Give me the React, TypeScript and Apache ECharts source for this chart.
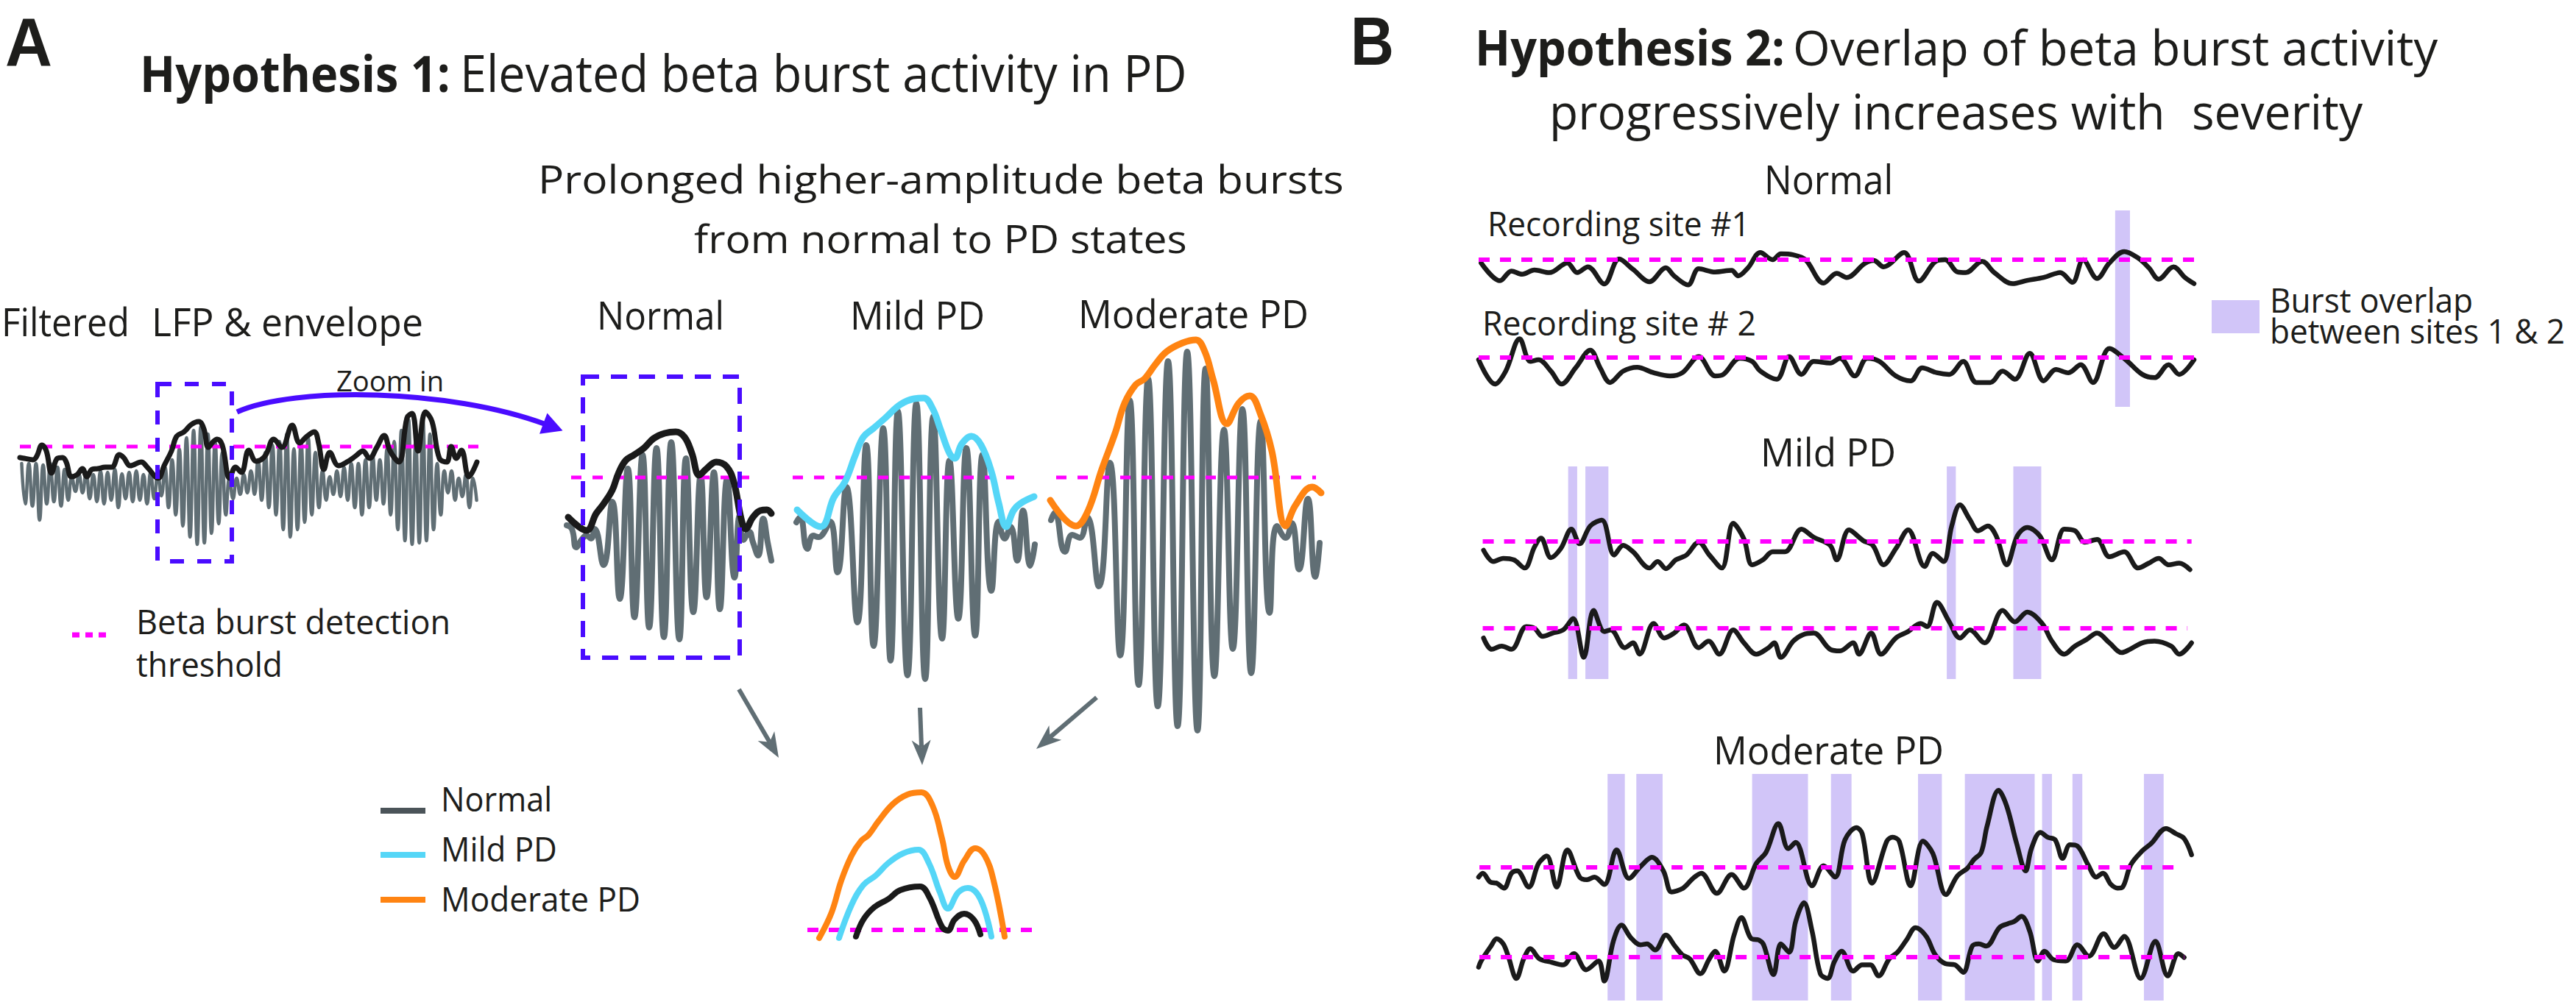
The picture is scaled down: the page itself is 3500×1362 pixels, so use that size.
import React, { useEffect, useRef } from 'react';
import * as echarts from 'echarts';

// ================= DATA =================
// Panel A – filtered LFP (beta band): [peak, trough] amplitude of each beta cycle (a.u.)
const lfpCycles: [number, number][] = [
  [30, -25], [30, -28], [30, -47], [28, -25],
  [30, -22], [25, -28], [22, -20],
  [12, -8], [15, -10],
  [18, -18], [15, -22], [20, -25], [18, -20], [22, -30], [16, -18], [18, -22], [20, -20], [15, -25], [18, -18], [16, -14],
  [25, -30], [35, -40], [50, -55], [65, -70], [75, -80], [80, -78], [70, -65], [60, -52], [45, -40], [10, -18],
  [10, -12], [15, -10],
  [20, -12], [35, -20], [45, -30], [55, -40], [60, -60], [70, -70], [50, -60], [60, -50], [65, -40],
  [45, -30], [20, -20], [12, -12], [20, -15], [25, -20], [30, -30], [30, -40], [35, -30], [40, -20], [35, -25],
  [50, -40], [60, -60], [75, -75], [90, -80], [60, -78], [90, -75], [70, -60], [30, -40],
  [20, -10], [20, -20], [10, -15], [15, -30], [10, -20],
];
const lfpSpan = 623; // samples covered by the filtered LFP
const lfpEnvelope: [number, number][] = [
  [0, 38], [6, 37], [18, 35], [23, 40], [30, 55], [36, 47], [43, 17], [51, 37], [58, 38], [63, 32], [70, 12], [78, 15],
  [85, 23], [91, 12], [98, 22], [106, 23], [116, 25], [125, 25], [135, 42], [141, 38], [150, 27], [165, 32], [173, 25],
  [188, 10], [196, 27], [206, 47], [213, 67], [223, 73], [233, 83], [243, 87], [250, 77], [256, 52], [263, 60], [268, 63],
  [275, 55], [285, 10], [293, 25], [301, 18], [311, 48], [321, 33], [333, 40], [345, 63], [356, 52], [370, 82], [380, 58],
  [390, 67], [400, 73], [406, 57], [413, 22], [421, 45], [433, 27], [446, 33], [456, 40], [466, 47], [475, 37], [485, 52],
  [495, 68], [503, 47], [515, 32], [526, 92], [533, 98], [541, 47], [551, 100], [560, 87], [570, 37], [580, 32], [586, 53],
  [593, 37], [600, 48], [610, 12], [621, 32],
];
const lfpThreshold = 53;
const lfpThresholdSpan: [number, number] = [0, 623];

// Zoomed bursts: [time, amplitude]
const normalBurstLfp: [number, number][] = [
  [0, 22], [7, 17], [13, -8], [20, 2], [27, 8], [33, 4], [38, 17], [50, -32], [62, 54], [72, -78], [83, 99], [92, -103],
  [103, 118], [112, -117], [122, 127], [132, -130], [142, 135], [153, -133], [162, 113], [172, -96], [182, 90], [190, -76],
  [200, 94], [208, -92], [218, 85], [228, -49], [235, 35], [240, 2], [248, 13], [253, -1], [260, -19], [267, 31], [273, -1], [278, -26],
];
const normalBurstEnv: [number, number][] = [
  [2, 33], [27, 15], [40, 38], [50, 51], [62, 70], [70, 92], [80, 110], [92, 118], [105, 127], [118, 140], [133, 147],
  [148, 149], [160, 142], [170, 120], [180, 90], [190, 99], [203, 108], [217, 102], [227, 81], [237, 31], [243, 17],
  [253, 33], [263, 42], [272, 43], [278, 38],
];
const mildBurstLfp: [number, number][] = [
  [2, 26], [7, 33], [17, -10], [25, 8], [32, 6], [38, 10], [48, 27], [58, -42], [70, 74], [85, -110], [97, 131], [107, -142],
  [120, 154], [130, -162], [140, 177], [153, -182], [165, 188], [177, -187], [188, 170], [200, -132], [210, 110], [222, -105],
  [233, 127], [245, -128], [255, 118], [267, -67], [277, 27], [285, 4], [293, 20], [302, -26], [310, 42], [320, -33], [326, -4],
];
const mildBurstEnv: [number, number][] = [
  [3, 43], [35, 20], [53, 60], [68, 81], [82, 117], [93, 142], [107, 154], [123, 168], [143, 186], [162, 194], [175, 195],
  [187, 181], [198, 152], [210, 120], [217, 113], [227, 133], [240, 143], [253, 131], [267, 95], [277, 52], [287, 20],
  [297, 42], [307, 52], [325, 61],
];
const moderateBurstLfp: [number, number][] = [
  [8, 29], [13, 39], [27, -14], [37, 9], [47, 5], [57, 33], [73, -61], [88, 107], [102, -155], [115, 192], [127, -195],
  [140, 221], [153, -224], [167, 245], [180, -251], [193, 258], [207, -257], [218, 235], [230, -183], [243, 152], [255, -146],
  [268, 180], [280, -179], [293, 164], [305, -97], [315, 21], [327, 5], [335, 25], [345, -38], [357, 58], [367, -48], [373, -2],
];
const moderateBurstEnv: [number, number][] = [
  [7, 56], [42, 21], [58, 41], [77, 98], [95, 147], [108, 188], [123, 213], [135, 221], [150, 241], [165, 258], [187, 270],
  [205, 274], [217, 258], [228, 221], [247, 160], [263, 188], [278, 198], [293, 172], [308, 123], [327, 21], [340, 49],
  [363, 74], [375, 66],
];
const burstThreshold = 87;
const normalThrSpan: [number, number] = [6, 248];
const mildThrSpan: [number, number] = [-3, 298];
const moderateThrSpan: [number, number] = [15, 368];

// Envelope comparison (amplitude above threshold)
const overlayModerate: [number, number][] = [
  [16, -11], [33, 24], [46, 67], [60, 101], [73, 121], [83, 129], [96, 147], [116, 171], [136, 184], [155, 187], [170, 169],
  [183, 124], [191, 87], [200, 72], [213, 94], [228, 111], [241, 101], [253, 67], [268, -9],
];
const overlayMild: [number, number][] = [
  [43, -11], [60, 34], [76, 61], [93, 74], [110, 91], [130, 104], [151, 109], [165, 91], [180, 51], [191, 29], [205, 51],
  [218, 57], [235, 42], [250, -9],
];
const overlayNormal: [number, number][] = [
  [66, -9], [76, 14], [91, 31], [110, 42], [126, 54], [153, 59], [166, 44], [183, 4], [191, -1], [200, 14], [213, 22],
  [226, 14], [235, -6],
];
const overlayThrSpan: [number, number] = [0, 305];

// Panel B – beta amplitude at two recording sites, relative to the threshold (0)
const normalSite1: [number, number][] = [
  [3, -1.0], [26, -6.5], [40, -3.5], [53, -4.5], [68, -3.2], [86, -4.0], [108, -1.0], [120, -4.0], [133, -2.2], [153, -7.5],
  [171, 0.2], [188, -3.0], [208, -6.8], [228, -2.5], [238, -5.0], [255, -7.8], [268, -2.8], [288, -3.8], [308, -3.3],
  [316, -5.0], [328, -2.5], [343, 2.2], [358, 0], [368, 1.8], [383, 1.5], [398, 0], [420, -7.2], [436, -4.2], [448, -5.5],
  [470, -1.2], [481, -0.2], [493, -2.2], [518, 2.2], [536, -6.6], [556, -0.6], [568, 0], [583, -3.8], [593, -4.0],
  [613, -0.5], [628, -4.0], [650, -7.4], [668, -6.4], [688, -5.5], [708, -4.0], [723, -7.0], [736, 0], [753, -5.8],
  [768, -1.0], [786, 2.5], [803, 0.5], [816, -2.5], [828, -6.0], [846, -2.2], [860, -5.5], [871, -7.4],
];
const normalSite2: [number, number][] = [
  [0, -0.7], [20, -8.2], [33, -4.2], [50, 5.8], [63, -1.2], [73, -0.7], [88, -4.2], [101, -8.2], [118, -3.2], [136, 2.3],
  [148, -3.2], [160, -7.7], [176, -4.2], [193, -3.0], [213, -4.7], [233, -5.7], [248, -4.7], [268, 0.3], [288, -5.7],
  [298, -5.2], [318, -0.2], [333, -1.2], [343, -4.2], [363, -6.7], [378, 0.3], [393, -5.2], [408, -1.2], [428, -1.7],
  [440, -0.2], [458, -5.7], [473, -0.2], [488, -1.2], [508, -5.7], [526, -7.2], [540, -3.2], [558, -4.7], [573, -5.2],
  [590, -1.2], [606, -7.7], [623, -7.7], [638, -4.2], [653, -6.7], [671, 1.3], [688, -7.2], [703, -3.7], [718, -4.7],
  [733, -2.2], [748, -7.7], [768, 2.8], [788, -0.7], [808, -5.2], [823, -6.2], [840, -2.2], [853, -5.2], [871, -0.7],
];
const mildSite1: [number, number][] = [
  [6, -2.7], [18, -6.2], [30, -5.2], [43, -5.7], [56, -8.2], [68, -1.7], [76, 1.0], [88, -5.0], [100, -2.2], [113, 3.8],
  [123, -0.7], [136, 4.8], [150, 6.6], [165, -4.2], [176, -1.2], [188, -3.2], [208, -8.2], [218, -6.2], [228, -8.4],
  [240, -5.7], [253, -4.2], [268, -0.2], [281, -4.2], [296, -8.2], [310, 5.6], [323, 0.8], [333, -7.2], [346, -5.7],
  [358, -3.2], [373, -3.2], [393, 3.8], [408, 1.3], [428, -1.2], [436, -5.7], [451, 3.6], [468, 0.3], [480, -1.2],
  [493, -7.2], [508, -2.2], [523, 3.6], [543, -7.7], [553, -3.7], [566, -6.2], [576, 4.8], [586, 11.3], [598, 6.8],
  [608, 3.3], [620, 4.8], [630, 1.8], [643, -7.2], [656, 1.8], [668, 4.3], [683, 1.8], [698, -5.7], [713, 3.8], [726, 3.3],
  [738, -0.2], [753, 0.6], [768, -4.7], [786, -3.2], [803, -8.2], [816, -6.7], [828, -5.2], [840, -7.2], [853, -6.7], [866, -8.7],
];
const mildSite2: [number, number][] = [
  [6, -3.0], [16, -6.5], [28, -5.5], [40, -6.5], [58, 0.5], [68, 0], [78, -2.5], [90, -1.5], [103, -0.5], [115, 3.0],
  [128, -9.0], [140, 5.5], [153, -1.0], [161, -0.5], [178, -6.0], [188, -4.5], [196, -8.0], [213, 1.5], [226, -3.0],
  [238, -1.5], [250, 1.0], [268, -6.0], [280, -4.0], [293, -8.0], [310, -0.5], [323, -4.5], [338, -8.0], [353, -6.0],
  [360, -4.5], [368, -9.0], [383, -4.0], [395, -2.0], [408, -1.5], [428, -6.5], [440, -7.0], [456, -4.5], [463, -8.0],
  [478, -1.5], [490, -8.0], [508, -3.0], [523, -1.0], [538, 1.5], [546, 0.5], [558, 8.0], [573, 2.0], [586, -3.0],
  [598, -0.5], [616, -4.5], [638, 5.5], [653, 2.0], [668, 5.0], [686, 1.5], [698, -4.0], [713, -8.0], [726, -5.5],
  [740, -3.5], [753, -1.5], [768, -4.5], [783, -7.5], [793, -6.5], [808, -4.5], [823, -4.0], [843, -5.5], [853, -8.0], [868, -4.5],
];
const moderateSite1: [number, number][] = [
  [0, -3.0], [5, -1.8], [14, -4.5], [22, -4.9], [31, -6.4], [40, -1.8], [47, -1.1], [61, -6.1], [73, 1.2], [83, 3.5],
  [95, -6.1], [108, 5.4], [123, -3.0], [132, -3.8], [141, -3.0], [153, -5.3], [168, 5.4], [183, -3.4], [198, 0.5],
  [211, 3.1], [225, -1.1], [235, -7.6], [249, -6.4], [261, -3.4], [271, -1.8], [290, -8.0], [308, -2.2], [323, -6.4],
  [338, 1.2], [350, 4.7], [365, 13.5], [377, 5.8], [386, 7.7], [406, -5.7], [420, 0.5], [434, -3.0], [446, 8.5],
  [460, 12.3], [467, 10.4], [479, -4.9], [497, 8.1], [504, 9.3], [512, 8.1], [526, -5.7], [541, 8.1], [553, 4.3],
  [569, -8.4], [583, -2.6], [595, -0.3], [603, 2.4], [612, 4.7], [619, 12.7], [633, 23.8], [643, 18.9], [655, 7.4],
  [666, -1.1], [673, 5.8], [684, 10.8], [693, 9.3], [702, 8.5], [711, 2.8], [720, 7.0], [729, 6.6], [742, 0.8],
  [752, -3.0], [760, -1.8], [770, -5.3], [778, -6.4], [784, -6.1], [794, 0.8], [808, 5.1], [819, 7.4], [837, 12.0],
  [849, 10.4], [859, 8.9], [868, 3.9],
];
const moderateSite2: [number, number][] = [
  [0, -3.1], [3, -1.2], [15, 3.4], [22, 5.7], [30, 4.1], [36, 0.3], [46, -6.6], [55, -0.5], [63, 2.6], [74, -0.5],
  [89, -1.6], [103, -2.4], [116, 1.1], [131, -3.9], [146, -1.2], [153, -7.4], [164, 4.9], [174, 9.9], [185, 6.1],
  [197, 3.8], [205, 4.1], [215, 2.2], [228, 6.8], [239, 3.4], [248, 0.7], [257, -0.5], [270, -5.1], [281, -0.5],
  [288, 1.8], [299, -4.3], [311, 6.8], [320, 12.2], [332, 5.7], [341, 5.3], [347, 3.8], [359, -5.4], [368, 4.1],
  [378, 1.5], [386, 11.0], [396, 16.8], [406, 8.0], [416, -5.1], [425, -6.6], [433, -1.5], [442, 1.8], [456, -4.3],
  [467, -2.4], [477, -2.4], [487, -5.8], [500, -0.5], [510, 1.5], [521, 5.3], [532, 9.1], [545, 6.4], [556, 0.7],
  [568, -2.0], [580, -2.4], [590, -4.7], [601, 3.4], [609, 4.1], [618, 3.4], [634, 9.1], [644, 10.3], [652, 11.0],
  [661, 12.6], [671, 8.0], [681, -1.2], [689, 1.8], [700, -0.8], [715, -1.2], [729, 3.8], [743, 0.3], [761, 7.2],
  [774, 3.0], [786, 6.4], [806, -6.6], [824, 4.9], [839, -5.8], [852, 1.1], [859, -0.1],
];
const normalOverlaps: [number, number][] = [[775, 793]];
const mildOverlaps: [number, number][] = [[109, 120], [130, 158], [570, 581], [651, 685]];
const moderateOverlaps: [number, number][] = [
  [157, 178], [192, 224], [333, 401], [429, 454], [535, 564], [592, 677], [686, 698], [723, 735], [810, 834],
];
const normalThr: [number, number][] = [[0, 871], [0, 871]];
const mildThr: [number, number][] = [[5, 868], [5, 863]];
const moderateThr: [number, number][] = [[1, 846], [1, 859]];

// ================= STYLE / LAYOUT =================
const W = 3500;
const H = 1362;
const FONT = '"Open Sans", "Noto Sans", sans-serif';
const ARIAL = '"Liberation Sans", Arial, sans-serif';
const TXT = '#1d1d1b';
const GREY = '#606e74';
const BLACK = '#1a1a1a';
const CYAN = '#55d6f7';
const ORANGE = '#ff8412';
const MAGENTA = '#ff00ff';
const VIOLET = '#4a0cff';
const LAVENDER = '#d1c5f8';

const LABELS: any[] = [
  { t: 'A', x: 7, b: 90, cap: 67, w: 64, bold: true, arial: true },
  { t: 'B', x: 1835, b: 89, cap: 66, w: 59, bold: true, arial: true },
  { t: 'Hypothesis 1:', x: 190, b: 123, cap: 49, w: 422, bold: true },
  { t: 'Elevated beta burst activity in PD', x: 625, b: 123, cap: 49, w: 988 },
  { t: 'Hypothesis 2:', x: 2004, b: 87, cap: 47, w: 421, bold: true },
  { t: 'Overlap of beta burst activity', x: 2436, b: 87, cap: 47, w: 876 },
  { t: 'progressively increases with', x: 2105, b: 174, cap: 47, w: 837 },
  { t: 'severity', x: 2978, b: 174, cap: 47, w: 232 },
  { t: 'Prolonged higher-amplitude beta bursts', x: 731, b: 261, cap: 38, w: 1095 },
  { t: 'from normal to PD states', x: 943, b: 342, cap: 38, w: 670 },
  { t: 'Filtered', x: 2, b: 455, cap: 38, w: 174 },
  { t: 'LFP & envelope', x: 206, b: 455, cap: 38, w: 369 },
  { t: 'Zoom in', x: 457, b: 531, cap: 28, w: 146 },
  { t: 'Normal', x: 811, b: 446, cap: 38, w: 173 },
  { t: 'Mild PD', x: 1155, b: 446, cap: 38, w: 183 },
  { t: 'Moderate PD', x: 1465, b: 444, cap: 38, w: 313 },
  { t: 'Beta burst detection', x: 185, b: 860, cap: 33, w: 427 },
  { t: 'threshold', x: 185, b: 919, cap: 33, w: 199 },
  { t: 'Normal', x: 599, b: 1101, cap: 33, w: 151 },
  { t: 'Mild PD', x: 599, b: 1170, cap: 33, w: 158 },
  { t: 'Moderate PD', x: 599, b: 1238, cap: 33, w: 271 },
  { t: 'Normal', x: 2397, b: 262, cap: 39, w: 175 },
  { t: 'Recording site #1', x: 2021, b: 319, cap: 32, w: 357 },
  { t: 'Recording site # 2', x: 2014, b: 454, cap: 32, w: 372 },
  { t: 'Burst overlap', x: 3084, b: 424, cap: 33, w: 276 },
  { t: 'between sites 1 & 2', x: 3084, b: 466, cap: 33, w: 401 },
  { t: 'Mild PD', x: 2392, b: 632, cap: 38, w: 184 },
  { t: 'Moderate PD', x: 2328, b: 1037, cap: 38, w: 313 },
];

let measureCtx: CanvasRenderingContext2D | null = null;
function measure(text: string, font: string): number {
  if (!measureCtx) measureCtx = document.createElement('canvas').getContext('2d');
  if (!measureCtx) return 0;
  measureCtx.font = font;
  return measureCtx.measureText(text).width;
}

function labelEl(l: any) {
  const family = l.arial ? ARIAL : FONT;
  const ratio = l.arial ? 0.716 : 0.714;
  const size = Math.round((l.cap / ratio) * 10) / 10;
  const font = `${l.bold ? 'bold' : 'normal'} ${size}px ${family}`;
  const m = measure(l.t, font);
  const sx = m > 0 ? l.w / m : 1;
  return {
    type: 'text',
    x: l.x,
    y: l.b - l.cap / 2,
    scaleX: sx,
    z: 120,
    silent: true,
    style: {
      text: l.t,
      font,
      fill: TXT,
      align: 'left',
      verticalAlign: 'middle',
      textAlign: 'left',
      textVerticalAlign: 'middle',
    },
  };
}

function arrowEls(x1: number, y1: number, x2: number, y2: number, color: string, width: number, headLen: number, headW: number) {
  const dx = x2 - x1;
  const dy = y2 - y1;
  const L = Math.hypot(dx, dy);
  const ux = dx / L;
  const uy = dy / L;
  const px = -uy;
  const py = ux;
  const bx = x2 - ux * headLen;
  const by = y2 - uy * headLen;
  const nx = x2 - ux * headLen * 0.72;
  const ny = y2 - uy * headLen * 0.72;
  return [
    { type: 'line', z: 110, silent: true, shape: { x1, y1, x2: nx, y2: ny }, style: { stroke: color, lineWidth: width } },
    {
      type: 'polygon', z: 110, silent: true,
      shape: { points: [[x2, y2], [bx + px * headW, by + py * headW], [nx, ny], [bx - px * headW, by - py * headW]] },
      style: { fill: color },
    },
  ];
}

function buildOption() {
  const grids: any[] = [];
  const xAxes: any[] = [];
  const yAxes: any[] = [];
  const series: any[] = [];

  const addGrid = (left: number, top: number, width: number, height: number, xr: number[], yr: number[]) => {
    const i = grids.length;
    grids.push({ left, top, width, height, containLabel: false });
    xAxes.push({ type: 'value', gridIndex: i, min: xr[0], max: xr[1], show: false });
    yAxes.push({ type: 'value', gridIndex: i, min: yr[0], max: yr[1], show: false });
    return i;
  };
  const line = (gi: number, data: any[], color: string, width: number, smooth: number, z: number) => {
    series.push({
      type: 'line', xAxisIndex: gi, yAxisIndex: gi, data, symbol: 'none', showSymbol: false, smooth,
      clip: false, silent: true, z, lineStyle: { color, width, cap: 'round', join: 'round' },
    });
  };
  const thr = (gi: number, span: number[], v: number, width: number, dash: number[], z: number) => {
    series.push({
      type: 'line', xAxisIndex: gi, yAxisIndex: gi, data: [[span[0], v], [span[1], v]], symbol: 'none',
      showSymbol: false, clip: false, silent: true, z,
      lineStyle: { color: MAGENTA, width, type: dash, cap: 'butt' },
    });
  };
  const bands = (gi: number, list: [number, number][]) => {
    series.push({
      type: 'line', xAxisIndex: gi, yAxisIndex: gi, data: [[list[0][0], 0]], symbol: 'none', showSymbol: false,
      silent: true, z: 1, lineStyle: { opacity: 0, width: 0 },
      markArea: {
        silent: true, itemStyle: { color: LAVENDER, opacity: 1 },
        data: list.map(([a, b]) => [{ xAxis: a }, { xAxis: b }]),
      },
    });
  };

  // ---- Panel A: filtered LFP + envelope
  const g0 = addGrid(27, 540, 623, 240, [0, 623], [-120, 120]);
  const step = lfpSpan / lfpCycles.length;
  const lfpData: number[][] = [];
  lfpCycles.forEach(([p, t], i) => {
    lfpData.push([i * step + step * 0.25, p]);
    lfpData.push([i * step + step * 0.75, t]);
  });
  line(g0, lfpData, GREY, 4.5, 0.5, 2);
  thr(g0, lfpThresholdSpan, lfpThreshold, 5, [15, 14], 3);
  line(g0, lfpEnvelope, BLACK, 7, 0.4, 4);

  // ---- zoomed bursts
  const g1 = addGrid(770, 530, 280, 412, [0, 280], [-206, 206]);
  line(g1, normalBurstLfp, GREY, 8, 0.5, 2);
  thr(g1, normalThrSpan, burstThreshold, 5, [14, 15], 3);
  line(g1, normalBurstEnv, BLACK, 9, 0.4, 4);

  const g2 = addGrid(1075, 530, 335, 412, [-5, 330], [-206, 206]);
  line(g2, mildBurstLfp, GREY, 8, 0.5, 2);
  thr(g2, mildThrSpan, burstThreshold, 5, [14, 15], 3);
  line(g2, mildBurstEnv, CYAN, 9, 0.4, 4);

  const g3 = addGrid(1420, 440, 380, 570, [0, 380], [-274, 296]);
  line(g3, moderateBurstLfp, GREY, 8, 0.5, 2);
  thr(g3, moderateThrSpan, burstThreshold, 5, [14, 15], 3);
  line(g3, moderateBurstEnv, ORANGE, 9, 0.4, 4);

  // ---- envelope comparison
  const g4 = addGrid(1097, 1050, 305, 240, [0, 305], [-26, 214]);
  thr(g4, overlayThrSpan, 0, 6, [15, 14], 2);
  line(g4, overlayModerate, ORANGE, 8, 0.4, 3);
  line(g4, overlayMild, CYAN, 8, 0.4, 3);
  line(g4, overlayNormal, BLACK, 8, 0.4, 3);

  // ---- Panel B
  const K = 4.4; // px per amplitude unit
  const bGrid = (top: number, bottom: number, thrPx: number) =>
    addGrid(2009, top, 972, bottom - top, [0, 871], [(thrPx - bottom) / K, (thrPx - top) / K]);
  const rows: any[] = [
    { g: [bGrid(286, 420, 353), bGrid(420, 553, 486)], s: [normalSite1, normalSite2], ov: normalOverlaps, thr: normalThr },
    { g: [bGrid(634, 795, 736), bGrid(795, 923, 854)], s: [mildSite1, mildSite2], ov: mildOverlaps, thr: mildThr },
    { g: [bGrid(1052, 1240, 1179), bGrid(1240, 1360, 1301)], s: [moderateSite1, moderateSite2], ov: moderateOverlaps, thr: moderateThr },
  ];
  rows.forEach((r) => {
    r.g.forEach((gi: number, k: number) => {
      bands(gi, r.ov);
      line(gi, r.s[k], BLACK, 6.5, 0.35, 3);
      thr(gi, r.thr[k], 0, 6, [15, 14], 4);
    });
  });

  // ---- graphic: boxes, arrows, legends, texts
  const els: any[] = [];
  els.push({ type: 'rect', z: 100, silent: true, shape: { x: 214, y: 522, width: 101, height: 241 },
    style: { fill: 'none', stroke: VIOLET, lineWidth: 6, lineDash: [19, 18] } });
  els.push({ type: 'rect', z: 100, silent: true, shape: { x: 792, y: 512, width: 213, height: 382 },
    style: { fill: 'none', stroke: VIOLET, lineWidth: 6, lineDash: [22, 16] } });

  // zoom-in arc
  const arc = { x1: 322, y1: 560, cpx1: 400, cpy1: 525, cpx2: 610, cpy2: 528, x2: 742, y2: 577 };
  els.push({ type: 'bezierCurve', z: 100, silent: true, shape: arc, style: { stroke: VIOLET, lineWidth: 7, fill: 'none' } });
  {
    const dx = arc.x2 - arc.cpx2;
    const dy = arc.y2 - arc.cpy2;
    const L = Math.hypot(dx, dy);
    const ux = dx / L;
    const uy = dy / L;
    const tip = [arc.x2 + ux * 24, arc.y2 + uy * 24];
    const base = [arc.x2 - ux * 4, arc.y2 - uy * 4];
    els.push({ type: 'polygon', z: 100, silent: true,
      shape: { points: [tip, [base[0] - uy * 15, base[1] + ux * 15], [base[0] + uy * 15, base[1] - ux * 15]] },
      style: { fill: VIOLET } });
  }

  // grey arrows to the comparison
  els.push(...arrowEls(1004, 937, 1058, 1030, GREY, 6, 34, 13));
  els.push(...arrowEls(1250, 962, 1253, 1040, GREY, 6, 34, 13));
  els.push(...arrowEls(1490, 948, 1408, 1018, GREY, 6, 34, 13));

  // threshold legend
  els.push({ type: 'line', z: 100, silent: true, shape: { x1: 98, y1: 863, x2: 145, y2: 863 },
    style: { stroke: MAGENTA, lineWidth: 7, lineDash: [10, 8] } });
  // condition legend swatches
  els.push({ type: 'rect', z: 100, silent: true, shape: { x: 517, y: 1098, width: 61, height: 8 }, style: { fill: '#4b5459' } });
  els.push({ type: 'rect', z: 100, silent: true, shape: { x: 517, y: 1158, width: 61, height: 8 }, style: { fill: CYAN } });
  els.push({ type: 'rect', z: 100, silent: true, shape: { x: 517, y: 1219, width: 61, height: 8 }, style: { fill: ORANGE } });
  // overlap legend swatch
  els.push({ type: 'rect', z: 100, silent: true, shape: { x: 3005, y: 408, width: 65, height: 45 }, style: { fill: LAVENDER } });

  LABELS.forEach((l) => els.push(labelEl(l)));

  return {
    animation: false,
    backgroundColor: '#ffffff',
    grid: grids,
    xAxis: xAxes,
    yAxis: yAxes,
    series,
    graphic: { elements: els },
  };
}

export default function App() {
  const ref = useRef<HTMLDivElement>(null);
  useEffect(() => {
    const el = ref.current;
    if (!el) return;
    const chart = echarts.init(el, undefined, { renderer: 'svg', width: W, height: H });
    chart.setOption(buildOption());
    return () => chart.dispose();
  }, []);
  return (
    <div
      ref={ref}
      style={{ position: 'absolute', left: 0, top: 0, width: W, height: H, background: '#ffffff' }}
    />
  );
}
